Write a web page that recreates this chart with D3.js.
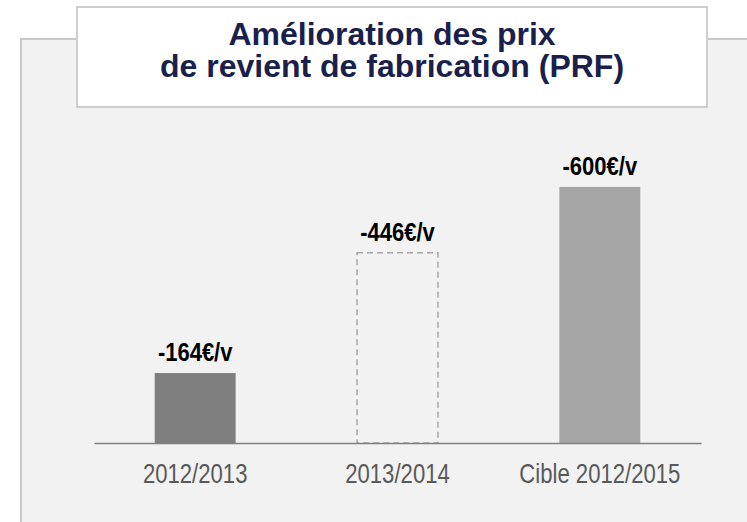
<!DOCTYPE html>
<html lang="fr">
<head>
<meta charset="utf-8">
<title>Amélioration des PRF</title>
<script src="https://d3js.org/d3.v7.min.js"></script>
<style>
  body { margin: 0; background: #fff; }
  text { font-family: "Liberation Sans Narrow", "Arial Narrow", "Liberation Sans", Arial, sans-serif; }
</style>
</head>
<body>
<div id="chart"></div>
<script>
// donnees
var categories = ["2012/2013", "2013/2014", "Cible 2012/2015"];
var valeurs = [164, 446, 600];
var etiquettes = ["-164€/v", "-446€/v", "-600€/v"];
var titre = ["Amélioration des prix", "de revient de fabrication (PRF)"];

var W = 747, H = 522;
var svg = d3.select("#chart").append("svg")
    .attr("width", W).attr("height", H);

// panneau gris
svg.append("rect")
    .attr("x", 21).attr("y", 39)
    .attr("width", W).attr("height", H)
    .attr("fill", "#f2f2f2")
    .attr("stroke", "#c8c8c8").attr("stroke-width", 2);

// boite du titre
svg.append("rect")
    .attr("x", 77).attr("y", 7)
    .attr("width", 630).attr("height", 100)
    .attr("fill", "#fff")
    .attr("stroke", "#cfcfcf").attr("stroke-width", 2);

// titre sur deux lignes (un seul <text>)
svg.append("text")
    .attr("text-anchor", "middle")
    .attr("font-size", 32)
    .attr("font-weight", "bold")
    .attr("fill", "#1b1f4c")
    .selectAll("tspan")
    .data(titre)
    .join("tspan")
    .attr("x", 392)
    .attr("y", (d, i) => 45 + i * 32)
    .text(d => d);

var x = d3.scaleBand()
    .domain(categories)
    .range([94, 701])
    .paddingInner(0.6)
    .paddingOuter(0.3);

var y = d3.scaleLinear()
    .domain([0, 600])
    .range([443, 187]);

// barres
var couleurs = ["#7f7f7f", "none", "#a5a5a5"];
svg.append("g").selectAll("rect")
    .data(valeurs)
    .join("rect")
    .attr("x", (d, i) => x(categories[i]))
    .attr("y", d => y(d))
    .attr("width", x.bandwidth())
    .attr("height", d => y(0) - y(d))
    .attr("fill", (d, i) => couleurs[i])
    .attr("stroke", (d, i) => i === 1 ? "#a6a6a6" : "none")
    .attr("stroke-width", 1.5)
    .attr("stroke-dasharray", (d, i) => i === 1 ? "6,4" : null);

// axe
var axe = svg.append("g")
    .attr("transform", "translate(0," + y(0) + ")")
    .call(d3.axisBottom(x).tickSize(0).tickPadding(21));
axe.select(".domain").attr("stroke", "#808080").attr("stroke-width", 1.5);
axe.selectAll("text")
    .attr("font-size", 27)
    .attr("fill", "#595959")
    .attr("font-family", null)
    .attr("transform", "scale(0.82,1)");

// etiquettes (police condensee simulee)
svg.append("g").selectAll("text")
    .data(valeurs)
    .join("text")
    .attr("transform", (d, i) => "translate(" + (x(categories[i]) + x.bandwidth() / 2) + "," + (y(d) - 12) + ") scale(0.88,1)")
    .attr("text-anchor", "middle")
    .attr("font-size", 25)
    .attr("font-weight", "bold")
    .attr("fill", "#000")
    .text((d, i) => etiquettes[i]);
</script>
</body>
</html>
